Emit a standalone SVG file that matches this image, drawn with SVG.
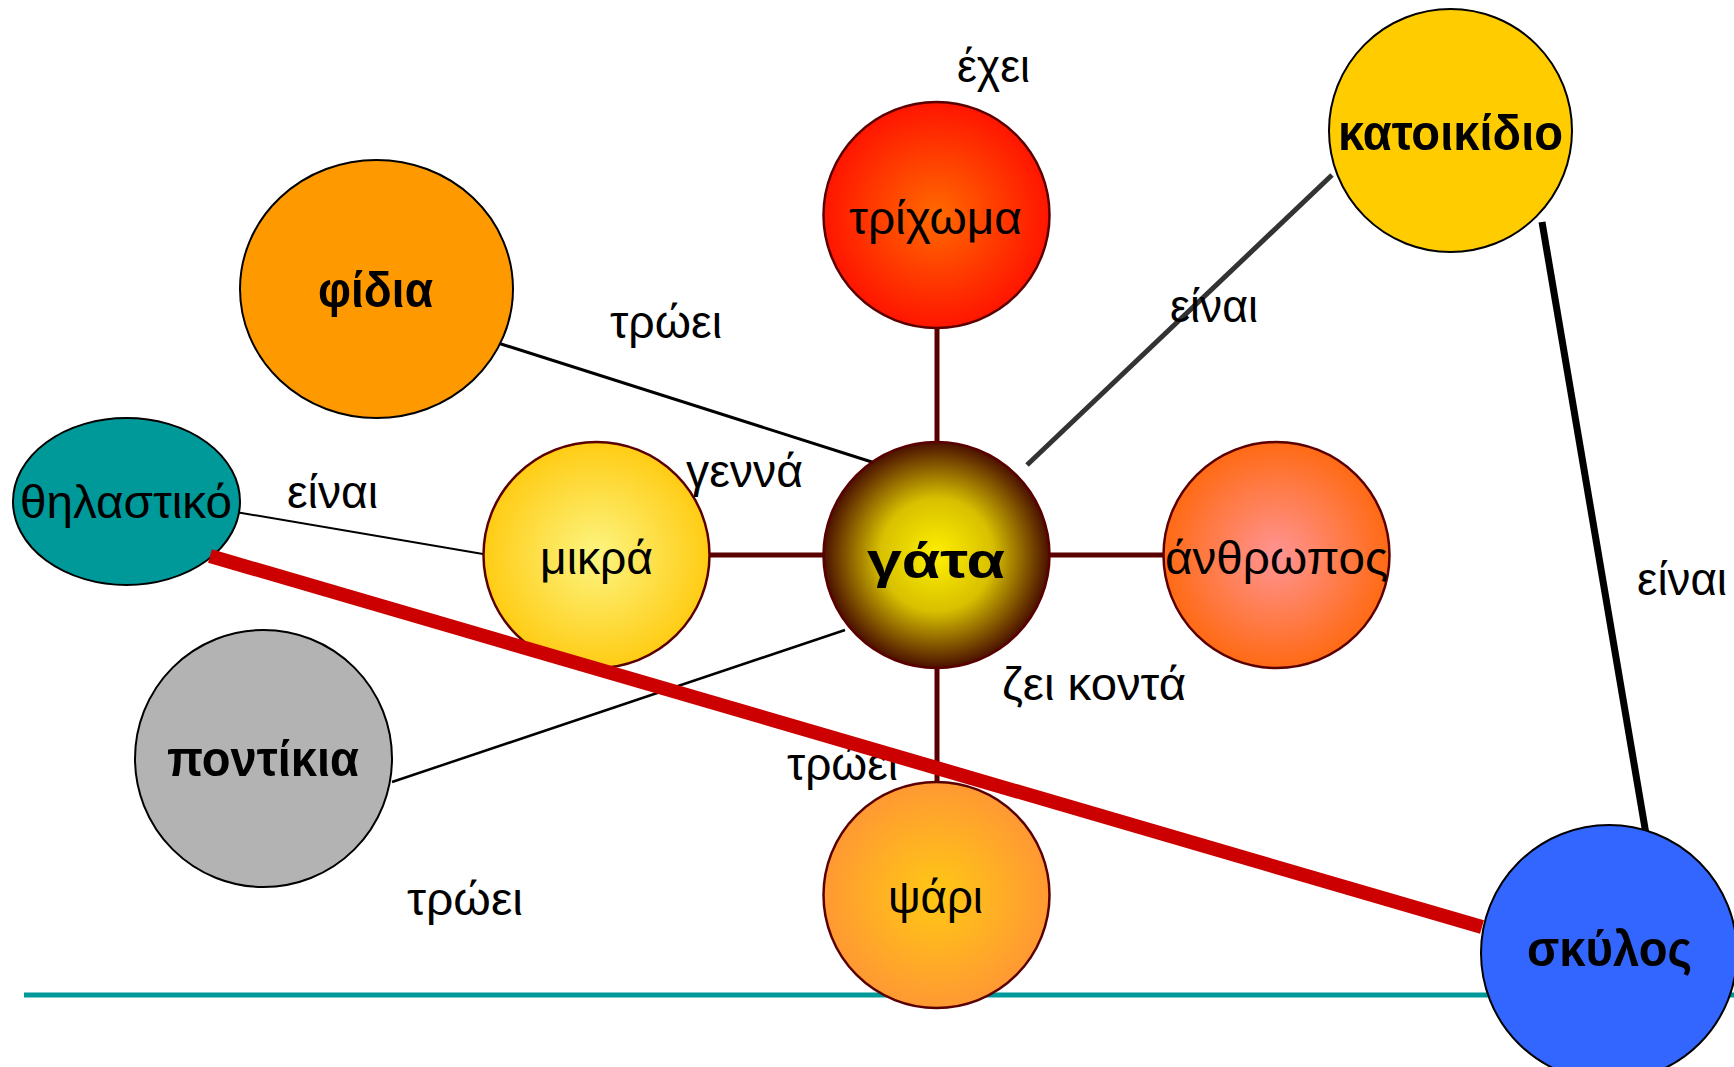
<svg xmlns="http://www.w3.org/2000/svg" width="1734" height="1067" viewBox="0 0 1734 1067">
<defs>
<radialGradient id="gGata" cx="0.5" cy="0.5" r="0.5"><stop offset="0" stop-color="#fff000"/><stop offset="0.5" stop-color="#d8c000"/><stop offset="1" stop-color="#4a1000"/></radialGradient>
<radialGradient id="gTrix" cx="0.5" cy="0.5" r="0.5"><stop offset="0" stop-color="#ff6a00"/><stop offset="1" stop-color="#ff1500"/></radialGradient>
<radialGradient id="gMikra" cx="0.5" cy="0.5" r="0.5"><stop offset="0" stop-color="#fcf582"/><stop offset="1" stop-color="#ffcc14"/></radialGradient>
<radialGradient id="gAnth" cx="0.5" cy="0.5" r="0.5"><stop offset="0" stop-color="#ff9494"/><stop offset="1" stop-color="#ff6a14"/></radialGradient>
<radialGradient id="gPsari" cx="0.5" cy="0.5" r="0.5"><stop offset="0" stop-color="#ffc814"/><stop offset="1" stop-color="#ff9933"/></radialGradient>
</defs>
<style>
.nb{stroke:#000;stroke-width:2}
.nm{stroke:#5a0000;stroke-width:2.5}
.t{font-family:"Liberation Sans",Arial,sans-serif;font-size:46px;fill:#000}
.b{font-family:"Liberation Sans",Arial,sans-serif;font-size:50px;font-weight:bold;fill:#000}
.m{stroke:#5a0000;stroke-width:5;fill:none}
.k{stroke:#000;fill:none}
</style>
<rect width="1734" height="1067" fill="#fff"/>
<line x1="24" y1="995" x2="1734" y2="995" stroke="#009999" stroke-width="5"/>
<g id="connectors">
<line class="m" x1="937" y1="328" x2="937" y2="442"/>
<line class="m" x1="710" y1="555" x2="823" y2="555"/>
<line class="m" x1="1050" y1="555" x2="1163" y2="555"/>
<line class="m" x1="937" y1="668" x2="937" y2="782"/>
<line class="k" stroke-width="3" x1="498" y1="343" x2="875" y2="463"/>
<line class="k" stroke-width="2.5" x1="845" y1="630" x2="392" y2="782"/>
<line class="k" stroke-width="2" x1="230" y1="511" x2="483" y2="554"/>
<line stroke="#333" stroke-width="5" x1="1027" y1="465" x2="1332" y2="175"/>
<line class="k" stroke-width="7" x1="1542" y1="222" x2="1647" y2="840"/>
</g>
<g id="node-gata"><circle cx="936.5" cy="555" r="113" fill="url(#gGata)" class="nm"/><text class="b" font-size="68" x="936" y="578" text-anchor="middle" textLength="138" lengthAdjust="spacingAndGlyphs">γάτα</text></g>
<g id="node-trixoma"><circle cx="936.5" cy="215" r="113" fill="url(#gTrix)" class="nm"/><text class="t" x="935.5" y="234" text-anchor="middle" textLength="173" lengthAdjust="spacingAndGlyphs">τρίχωμα</text></g>
<g id="node-mikra"><circle cx="596.5" cy="555" r="113" fill="url(#gMikra)" class="nm"/><text class="t" x="596.5" y="574" text-anchor="middle" textLength="113" lengthAdjust="spacingAndGlyphs">μικρά</text></g>
<g id="node-anthropos"><circle cx="1276.5" cy="555" r="113" fill="url(#gAnth)" class="nm"/><text class="t" x="1276.5" y="574" text-anchor="middle" textLength="223" lengthAdjust="spacingAndGlyphs">άνθρωπος</text></g>
<g id="node-psari"><circle cx="936.5" cy="895" r="113" fill="url(#gPsari)" class="nm"/><text class="t" x="935.5" y="913" text-anchor="middle" textLength="95" lengthAdjust="spacingAndGlyphs">ψάρι</text></g>
<g id="node-fidia"><ellipse cx="376.5" cy="289" rx="136.5" ry="129" fill="#ff9900" class="nb"/><text class="b" x="375.5" y="307" text-anchor="middle" textLength="115" lengthAdjust="spacingAndGlyphs">φίδια</text></g>
<g id="node-thilastiko"><ellipse cx="126.5" cy="501.5" rx="113.5" ry="83.5" fill="#009999" class="nb"/><text class="t" x="126" y="518" text-anchor="middle" textLength="212" lengthAdjust="spacingAndGlyphs">θηλαστικό</text></g>
<g id="node-pontikia"><circle cx="263.5" cy="758.5" r="128.5" fill="#b3b3b3" class="nb"/><text class="b" x="263" y="776" text-anchor="middle" textLength="192" lengthAdjust="spacingAndGlyphs">ποντίκια</text></g>
<g id="node-katoikidio"><circle cx="1450.5" cy="130.5" r="121.5" fill="#ffcc00" class="nb"/><text class="b" x="1450.5" y="150" text-anchor="middle" textLength="225" lengthAdjust="spacingAndGlyphs">κατοικίδιο</text></g>
<g id="node-skylos"><circle cx="1609" cy="953" r="128" fill="#3366ff" class="nb"/><text class="b" x="1609.5" y="966" text-anchor="middle" textLength="165" lengthAdjust="spacingAndGlyphs">σκύλος</text></g>
<g id="labels">
<text class="t" x="993.5" y="82" text-anchor="middle" textLength="73" lengthAdjust="spacingAndGlyphs">έχει</text>
<text class="t" x="666" y="338" text-anchor="middle" textLength="112" lengthAdjust="spacingAndGlyphs">τρώει</text>
<text class="t" x="332.5" y="508" text-anchor="middle" textLength="91" lengthAdjust="spacingAndGlyphs">είναι</text>
<text class="t" x="744.5" y="487" text-anchor="middle" textLength="117" lengthAdjust="spacingAndGlyphs">γεννά</text>
<text class="t" x="1214" y="322" text-anchor="middle" textLength="88" lengthAdjust="spacingAndGlyphs">είναι</text>
<text class="t" x="1094" y="700" text-anchor="middle" textLength="184" lengthAdjust="spacingAndGlyphs">ζει κοντά</text>
<text class="t" x="842.5" y="780" text-anchor="middle" textLength="111" lengthAdjust="spacingAndGlyphs">τρώει</text>
<text class="t" x="465" y="915" text-anchor="middle" textLength="116" lengthAdjust="spacingAndGlyphs">τρώει</text>
<text class="t" x="1682" y="595" text-anchor="middle" textLength="90" lengthAdjust="spacingAndGlyphs">είναι</text>
</g>
<g id="connector-red"><line stroke="#cc0000" stroke-width="14" x1="210" y1="556" x2="1482" y2="927"/></g>
</svg>
